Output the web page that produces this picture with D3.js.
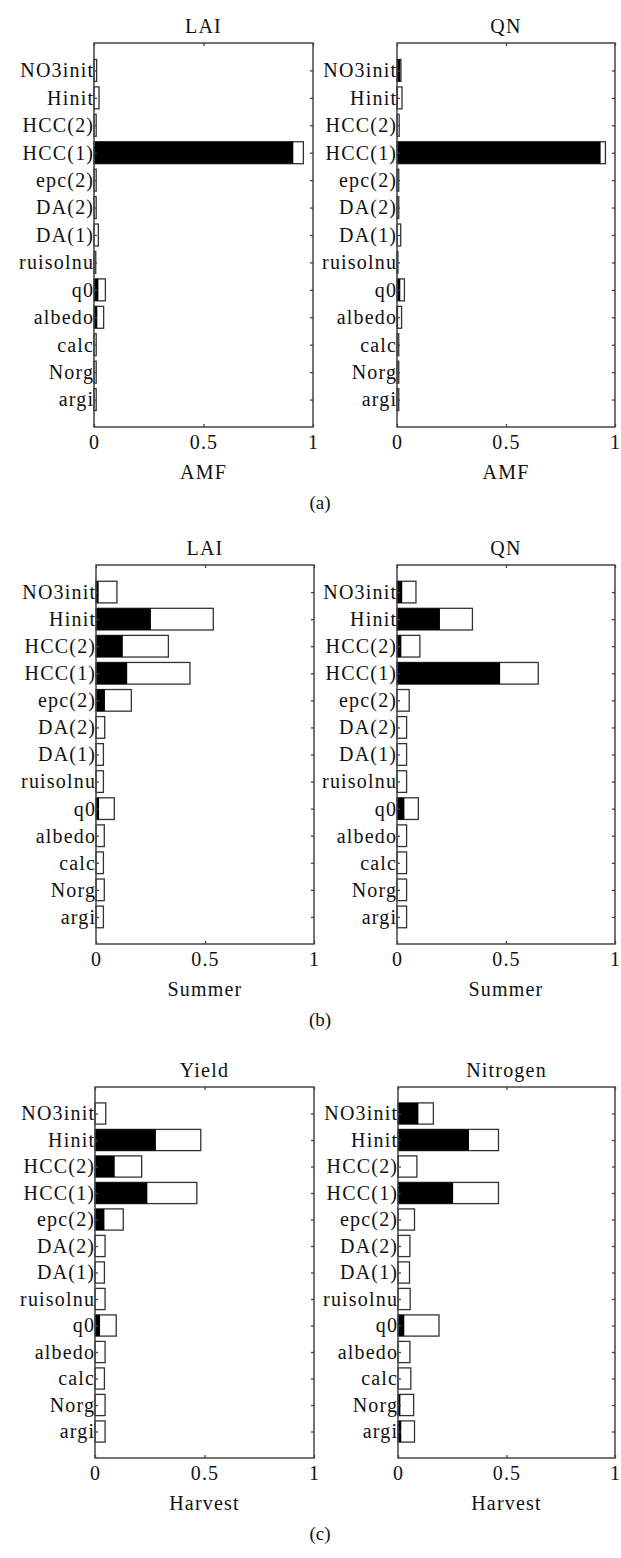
<!DOCTYPE html>
<html>
<head>
<meta charset="utf-8">
<script src="https://cdn.jsdelivr.net/npm/d3@7"></script>
<style>
  body { margin: 0; background: #fff; }
  svg text { font-family: "Liberation Serif", "DejaVu Serif", serif; fill: #111; }
</style>
</head>
<body>
<svg id="chart" width="621" height="1558"></svg>
<script>
// categories, top to bottom
const params = ['NO3init', 'Hinit', 'HCC(2)', 'HCC(1)', 'epc(2)', 'DA(2)', 'DA(1)',
  'ruisolnu', 'q0', 'albedo', 'calc', 'Norg', 'argi'];
const xTicks = [0, 0.5, 1];

// (a) AMF
const laiAmfFirst = [0, 0, 0, 0.91, 0, 0, 0, 0, 0.02, 0.015, 0, 0, 0];
const laiAmfTotal = [0.012, 0.023, 0.01, 0.956, 0.01, 0.01, 0.02, 0.008, 0.052, 0.044, 0.01, 0.01, 0.01];
const qnAmfFirst = [0.015, 0.003, 0, 0.934, 0, 0, 0, 0, 0.015, 0.005, 0, 0, 0];
const qnAmfTotal = [0.018, 0.023, 0.01, 0.956, 0.008, 0.008, 0.017, 0.004, 0.034, 0.021, 0.008, 0.008, 0.008];

// (b) Summer
const laiSumFirst = [0.012, 0.252, 0.123, 0.143, 0.041, 0, 0, 0, 0.014, 0, 0, 0, 0];
const laiSumTotal = [0.096, 0.538, 0.332, 0.431, 0.162, 0.04, 0.034, 0.034, 0.084, 0.038, 0.034, 0.038, 0.034];
const qnSumFirst = [0.024, 0.197, 0.02, 0.473, 0, 0, 0, 0, 0.034, 0, 0, 0, 0];
const qnSumTotal = [0.087, 0.346, 0.105, 0.648, 0.056, 0.044, 0.044, 0.044, 0.098, 0.044, 0.044, 0.044, 0.044];

// (c) Harvest
const yieldFirst = [0, 0.278, 0.09, 0.239, 0.043, 0, 0, 0, 0.023, 0, 0, 0, 0];
const yieldTotal = [0.049, 0.483, 0.213, 0.465, 0.129, 0.046, 0.043, 0.046, 0.097, 0.046, 0.043, 0.046, 0.046];
const nitroFirst = [0.094, 0.327, 0.004, 0.254, 0, 0, 0, 0, 0.029, 0, 0, 0.011, 0.015];
const nitroTotal = [0.163, 0.463, 0.087, 0.463, 0.076, 0.055, 0.053, 0.056, 0.189, 0.055, 0.059, 0.072, 0.076];

const panels = [
  { title: 'LAI', xlabel: 'AMF', first: laiAmfFirst, total: laiAmfTotal, x0: 94, x1: 313, y0: 43, y1: 427 },
  { title: 'QN', xlabel: 'AMF', first: qnAmfFirst, total: qnAmfTotal, x0: 397, x1: 615, y0: 43, y1: 427 },
  { title: 'LAI', xlabel: 'Summer', first: laiSumFirst, total: laiSumTotal, x0: 96, x1: 314, y0: 565, y1: 944 },
  { title: 'QN', xlabel: 'Summer', first: qnSumFirst, total: qnSumTotal, x0: 397, x1: 615, y0: 565, y1: 944 },
  { title: 'Yield', xlabel: 'Harvest', first: yieldFirst, total: yieldTotal, x0: 95, x1: 314, y0: 1087, y1: 1458 },
  { title: 'Nitrogen', xlabel: 'Harvest', first: nitroFirst, total: nitroTotal, x0: 398, x1: 615, y0: 1087, y1: 1458 }
];

const subLabels = [
  { text: '(a)', y: 509 },
  { text: '(b)', y: 1026 },
  { text: '(c)', y: 1540 }
];

const svg = d3.select('#chart');
const fontSize = 20;
const spacing = '1.2px';
const frameColor = '#444';

panels.forEach(p => {
  const x = d3.scaleLinear().domain([0, 1]).range([p.x0, p.x1]);
  const y = d3.scaleLinear().domain([14, 0]).range([p.y0, p.y1]);
  const pos = params.map((_, i) => 13 - i);
  const barH = y(0) - y(0.8);

  const g = svg.append('g');

  // total (white) bars
  g.selectAll('.tot')
    .data(p.total)
    .enter().append('rect')
    .attr('x', x(0))
    .attr('y', (d, i) => y(pos[i]) - barH / 2)
    .attr('width', d => x(d) - x(0))
    .attr('height', barH)
    .attr('fill', '#fff')
    .attr('stroke', '#333')
    .attr('stroke-width', 1.3);

  // first-order (black) bars
  g.selectAll('.first')
    .data(p.first)
    .enter().append('rect')
    .attr('x', x(0))
    .attr('y', (d, i) => y(pos[i]) - barH / 2)
    .attr('width', d => x(d) - x(0))
    .attr('height', barH)
    .attr('fill', '#000');

  // axes, ticks inward like matlab
  const xb = g.append('g')
    .attr('transform', `translate(0,${p.y1})`)
    .call(d3.axisBottom(x).tickValues(xTicks).tickFormat(d => d).tickSizeInner(-3).tickSizeOuter(0).tickPadding(8));
  const xt = g.append('g')
    .attr('transform', `translate(0,${p.y0})`)
    .call(d3.axisTop(x).tickValues(xTicks).tickFormat('').tickSizeInner(-3).tickSizeOuter(0));
  const yl = g.append('g')
    .attr('transform', `translate(${p.x0},0)`)
    .call(d3.axisLeft(y).tickValues(pos).tickFormat((d, i) => params[i]).tickSizeInner(-3).tickSizeOuter(0).tickPadding(1));
  const yr = g.append('g')
    .attr('transform', `translate(${p.x1},0)`)
    .call(d3.axisRight(y).tickValues(pos).tickFormat('').tickSizeInner(-3).tickSizeOuter(0));

  [xb, xt, yl, yr].forEach(a => {
    a.select('.domain').remove();
    a.selectAll('line').attr('stroke', frameColor).attr('stroke-width', 1.3);
    a.selectAll('text')
      .attr('font-size', fontSize)
      .attr('font-family', '"Liberation Serif", serif')
      .attr('fill', '#111')
      .style('letter-spacing', spacing);
  });
  xb.selectAll('text').attr('dy', '0.71em');
  yl.selectAll('text').attr('dx', '1.2px');

  // frame
  g.append('rect')
    .attr('x', p.x0).attr('y', p.y0)
    .attr('width', p.x1 - p.x0).attr('height', p.y1 - p.y0)
    .attr('fill', 'none')
    .attr('stroke', frameColor)
    .attr('stroke-width', 1.5);

  // title
  g.append('text')
    .attr('x', (p.x0 + p.x1) / 2)
    .attr('y', p.y0 - 10)
    .attr('text-anchor', 'middle')
    .attr('font-size', fontSize)
    .style('letter-spacing', spacing)
    .text(p.title);

  // x label
  g.append('text')
    .attr('x', (p.x0 + p.x1) / 2)
    .attr('y', p.y1 + 52)
    .attr('text-anchor', 'middle')
    .attr('font-size', fontSize)
    .style('letter-spacing', spacing)
    .text(p.xlabel);
});

svg.selectAll('.sub')
  .data(subLabels)
  .enter().append('text')
  .attr('class', 'sub')
  .attr('x', 320)
  .attr('y', d => d.y)
  .attr('text-anchor', 'middle')
  .attr('font-size', 19)
  .text(d => d.text);
</script>
</body>
</html>
